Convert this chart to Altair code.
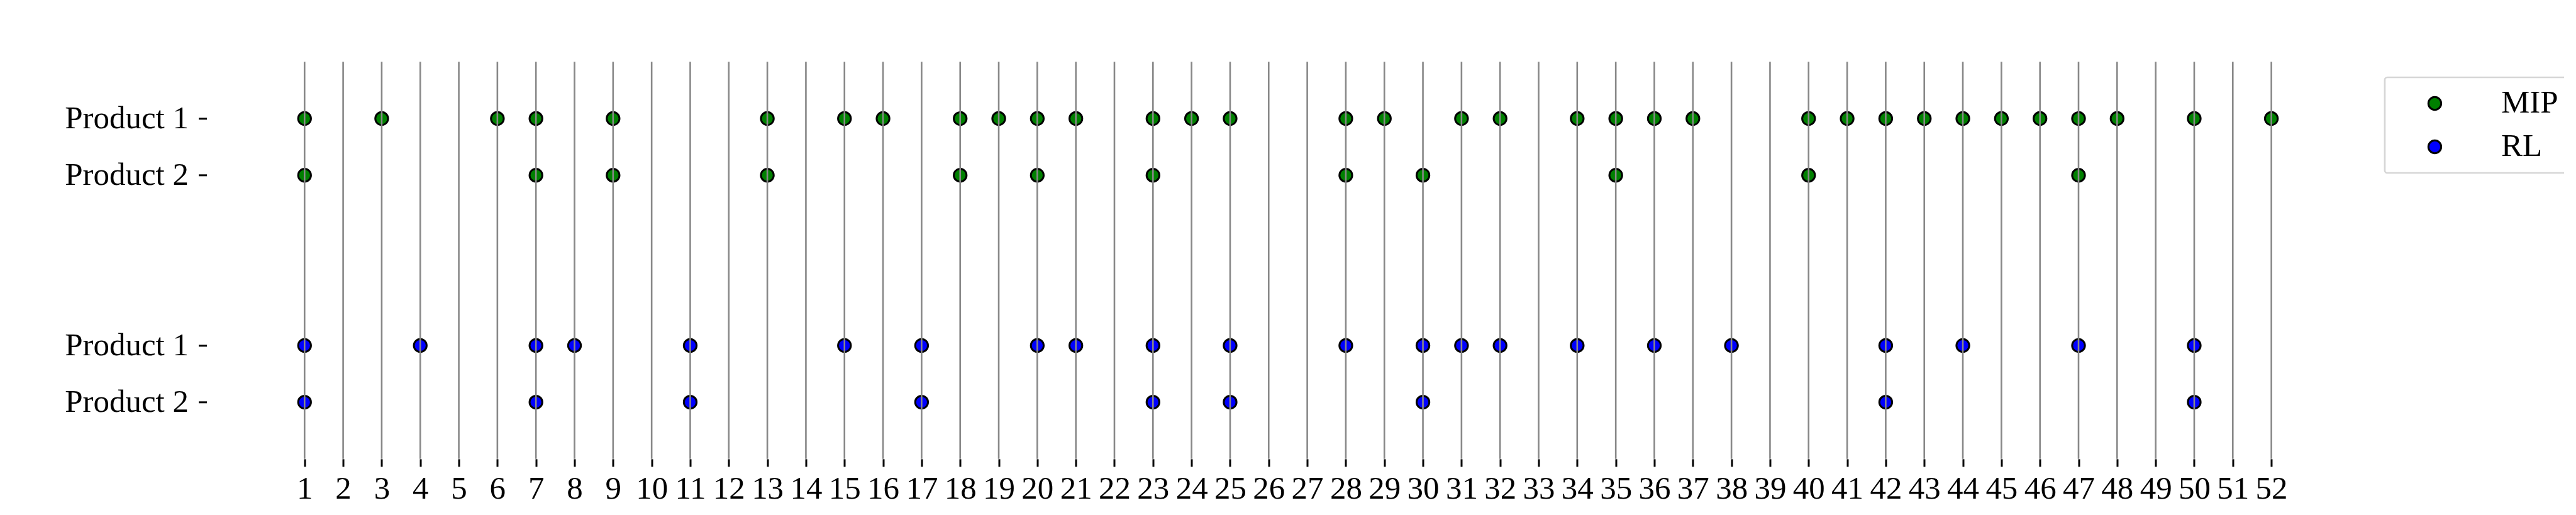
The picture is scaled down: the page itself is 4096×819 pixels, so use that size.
import altair as alt
import pandas as pd

# ---- data ----
time_steps = list(range(1, 53))
mip_product1 = [1, 3, 6, 7, 9, 13, 15, 16, 18, 19, 20, 21, 23, 24, 25, 28, 29, 31, 32,
                34, 35, 36, 37, 40, 41, 42, 43, 44, 45, 46, 47, 48, 50, 52]
mip_product2 = [1, 7, 9, 13, 18, 20, 23, 28, 30, 35, 40, 47]
rl_product1 = [1, 4, 7, 8, 11, 15, 17, 20, 21, 23, 25, 28, 30, 31, 32, 34, 36, 38, 42,
               44, 47, 50]
rl_product2 = [1, 7, 11, 17, 23, 25, 30, 42, 50]
methods = ["MIP", "RL"]
method_colors = ["green", "blue"]
row_labels = ["Product 1", "Product 2"]

series = [
    ("MIP", 0, mip_product1),
    ("MIP", 1, mip_product2),
    ("RL", 0, rl_product1),
    ("RL", 1, rl_product2),
]
rows = []
for method, prod, ts in series:
    offset = 0 if method == "MIP" else 4
    for t in ts:
        rows.append({"method": method, "product": row_labels[prod], "row": prod + offset, "t": t})
df = pd.DataFrame(rows)
grid_df = pd.DataFrame({"t": time_steps})

S = 0.91
W = 3779 * S
H = 694 * S
FONT = "Liberation Serif"
FS = 51

xscale = alt.Scale(domain=[-1.54, 54.54], nice=False, zero=False)
yscale = alt.Scale(domain=[-1, 6], nice=False, zero=False, reverse=True)

points = alt.Chart(df).mark_point(
    filled=True, shape="circle", size=413, stroke="black", strokeWidth=3, opacity=1
).encode(
    x=alt.X("t:Q", scale=xscale,
            axis=alt.Axis(values=time_steps, format="d", title="Time step", grid=False,
                          domain=False, tickColor="black", tickSize=12, tickWidth=3,
                          labelPadding=11, labelFont=FONT, labelFontSize=FS,
                          labelColor="black", labelAngle=0, labelOverlap=False,
                          labelFlush=False, titleFont=FONT, titleFontSize=FS,
                          titleFontWeight="normal", titleColor="black", titlePadding=18)),
    y=alt.Y("row:Q", scale=yscale,
            axis=alt.Axis(values=[0, 1, 4, 5], title=None, grid=False, domain=False,
                          tickColor="black", tickSize=13, tickWidth=3,
                          labelPadding=16, labelFont=FONT, labelFontSize=FS,
                          labelColor="black", labelLimit=0,
                          labelExpr="(datum.value == 0 || datum.value == 4) ? 'Product 1' : 'Product 2'")),
    color=alt.Color("method:N",
                    scale=alt.Scale(domain=methods, range=method_colors),
                    legend=alt.Legend(title=None, orient="none",
                                      legendX=3792 - 328.5, legendY=123 - 98.3,
                                      padding=16, rowPadding=17,
                                      symbolType="circle", symbolSize=413,
                                      symbolStrokeColor="black", symbolStrokeWidth=3,
                                      symbolOffset=38, labelOffset=80, labelLimit=0,
                                      labelFont=FONT, labelFontSize=FS, labelColor="black",
                                      strokeColor="#d6d6d6", fillColor="white",
                                      cornerRadius=4)),
)

grid = alt.Chart(grid_df).mark_rule(color="#888888", strokeWidth=2.6).encode(
    x=alt.X("t:Q", scale=xscale),
    y=alt.value(0),
    y2=alt.value(H),
)

chart = alt.layer(points, grid).properties(
    width=W, height=H,
    autosize=alt.AutoSizeParams(type="none"),
    padding={"left": 320.5, "top": 90.3, "right": 310, "bottom": 81},
).configure_view(stroke=None).configure_legend(strokeWidth=2.7)

chart.save("out.html", embed_options={"renderer": "svg", "actions": False})
